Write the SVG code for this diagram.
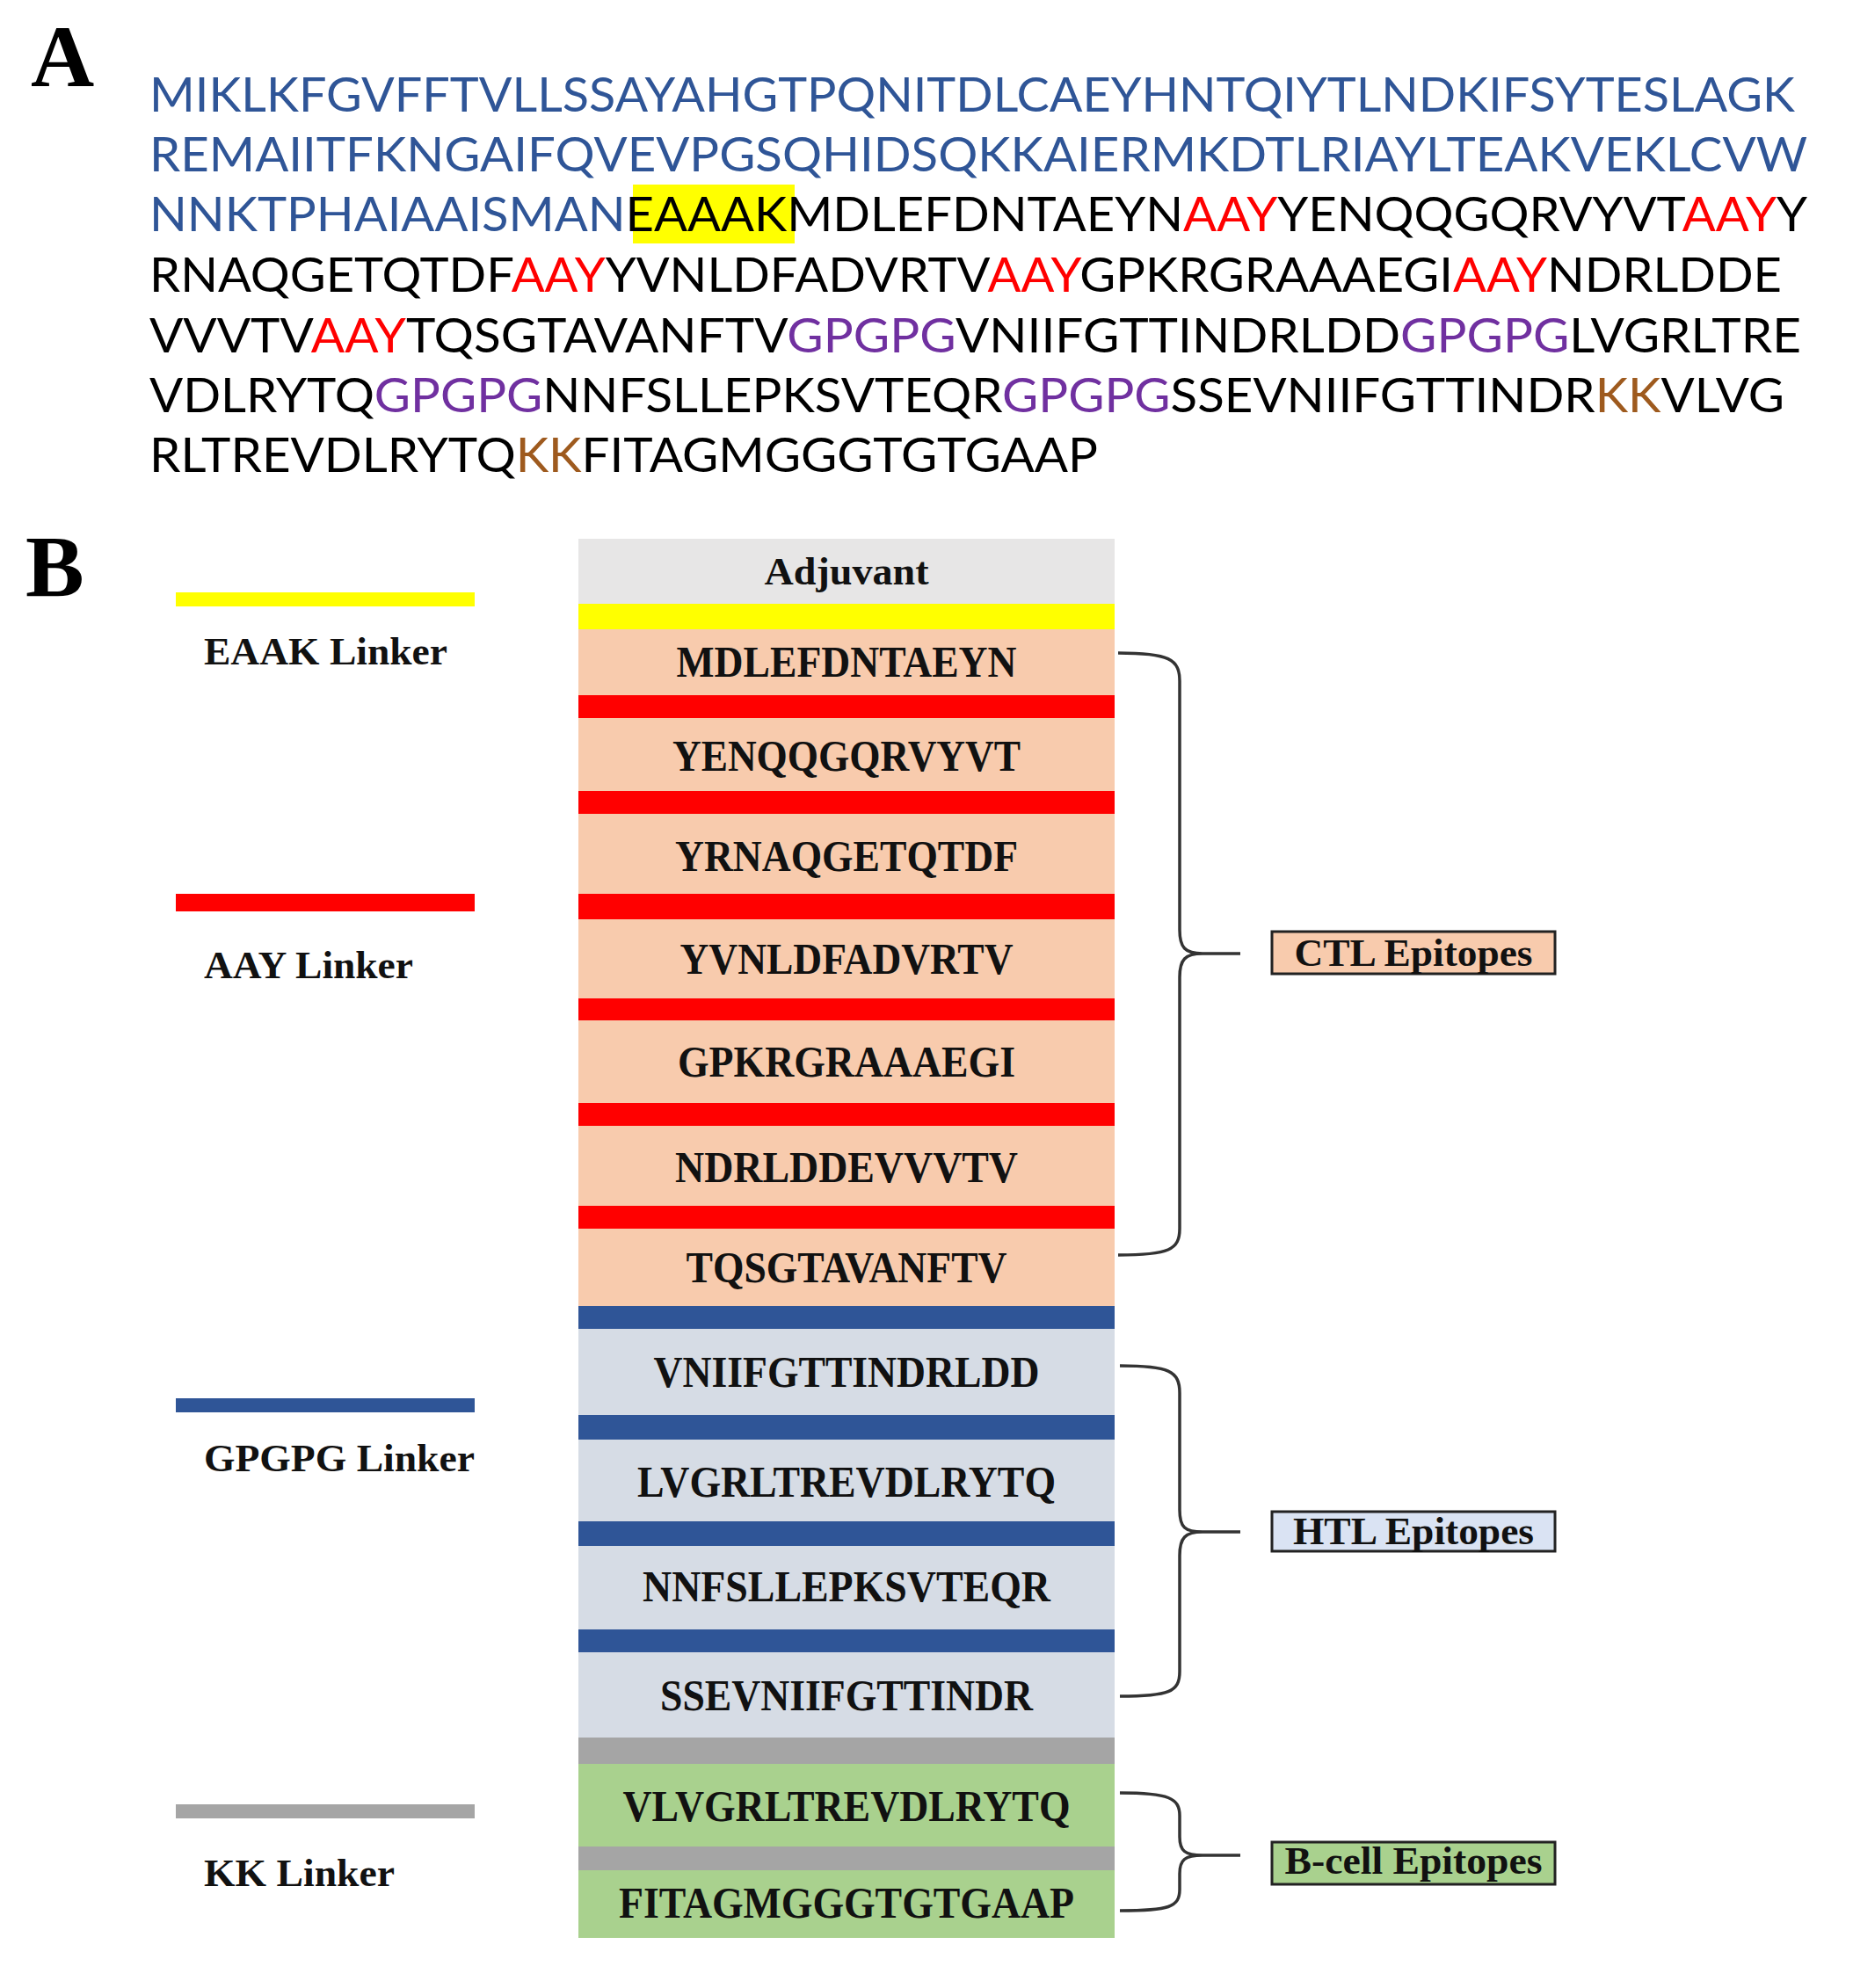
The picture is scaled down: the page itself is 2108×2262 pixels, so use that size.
<svg xmlns="http://www.w3.org/2000/svg" width="2108" height="2262" viewBox="0 0 2108 2262">
<style>
.panel{font-family:"Liberation Serif",serif;font-weight:bold;font-size:100px;fill:#000}
.seq{font-family:Lato,"Open Sans",sans-serif;font-size:54px;fill:#000}
.bl{fill:#2F5597}.rd{fill:#FF0000}.pu{fill:#7030A0}.br{fill:#9E5A1E}
.lab{font-family:"Liberation Serif",serif;font-weight:bold;font-size:50px;fill:#111;text-anchor:middle}
.leg{font-family:"Liberation Serif",serif;font-weight:bold;font-size:44px;fill:#111}
.box{font-family:"Liberation Serif",serif;font-weight:bold;font-size:44px;fill:#111;text-anchor:middle}
.brace{fill:none;stroke:#333;stroke-width:3.5}
</style>
<rect width="2108" height="2262" fill="#fff"/>

<g id="panelA">
<text class="panel" x="35" y="98">A</text>
<rect x="720" y="210" width="184" height="67" fill="#FFFF00"/>
<text class="seq bl" x="170" y="127" textLength="1872" lengthAdjust="spacingAndGlyphs">MIKLKFGVFFTVLLSSAYAHGTPQNITDLCAEYHNTQIYTLNDKIFSYTESLAGK</text>
<text class="seq bl" x="170" y="195" textLength="1886" lengthAdjust="spacingAndGlyphs">REMAIITFKNGAIFQVEVPGSQHIDSQKKAIERMKDTLRIAYLTEAKVEKLCVW</text>
<text class="seq" x="170" y="263" textLength="1886" lengthAdjust="spacingAndGlyphs"><tspan class="bl">NNKTPHAIAAISMAN</tspan>EAAAKMDLEFDNTAEYN<tspan class="rd">AAY</tspan>YENQQGQRVYVT<tspan class="rd">AAY</tspan>Y</text>
<text class="seq" x="170" y="332" textLength="1857" lengthAdjust="spacingAndGlyphs">RNAQGETQTDF<tspan class="rd">AAY</tspan>YVNLDFADVRTV<tspan class="rd">AAY</tspan>GPKRGRAAAEGI<tspan class="rd">AAY</tspan>NDRLDDE</text>
<text class="seq" x="170" y="401" textLength="1879" lengthAdjust="spacingAndGlyphs">VVVTV<tspan class="rd">AAY</tspan>TQSGTAVANFTV<tspan class="pu">GPGPG</tspan>VNIIFGTTINDRLDD<tspan class="pu">GPGPG</tspan>LVGRLTRE</text>
<text class="seq" x="170" y="469" textLength="1860" lengthAdjust="spacingAndGlyphs">VDLRYTQ<tspan class="pu">GPGPG</tspan>NNFSLLEPKSVTEQR<tspan class="pu">GPGPG</tspan>SSEVNIIFGTTINDR<tspan class="br">KK</tspan>VLVG</text>
<text class="seq" x="170" y="537" textLength="1079" lengthAdjust="spacingAndGlyphs">RLTREVDLRYTQ<tspan class="br">KK</tspan>FITAGMGGGTGTGAAP</text>
</g>

<g id="panelB">
<text class="panel" x="29" y="678">B</text>
</g>

<g id="legend">
<g id="leg-eaak"><rect x="200" y="674" width="340" height="16" fill="#FFFF00"/><text class="leg" x="232" y="756" textLength="277" lengthAdjust="spacingAndGlyphs">EAAK Linker</text></g>
<g id="leg-aay"><rect x="200" y="1017" width="340" height="20" fill="#FF0000"/><text class="leg" x="232" y="1113" textLength="238" lengthAdjust="spacingAndGlyphs">AAY Linker</text></g>
<g id="leg-gpgpg"><rect x="200" y="1591" width="340" height="16" fill="#2F5597"/><text class="leg" x="232" y="1674" textLength="308" lengthAdjust="spacingAndGlyphs">GPGPG Linker</text></g>
<g id="leg-kk"><rect x="200" y="2053" width="340" height="16" fill="#A5A5A5"/><text class="leg" x="232" y="2146" textLength="217" lengthAdjust="spacingAndGlyphs">KK Linker</text></g>
</g>

<g id="construct">
<g id="adjuvant"><rect x="658" y="613" width="610" height="74" fill="#E7E6E6"/><text class="box" x="963" y="665" textLength="187" lengthAdjust="spacingAndGlyphs">Adjuvant</text></g>
<rect id="eaak" x="658" y="687" width="610" height="29" fill="#FFFF00"/>
<g id="ctl1"><rect x="658" y="716" width="610" height="75" fill="#F8CBAD"/><text class="lab" x="963" y="770" textLength="387" lengthAdjust="spacingAndGlyphs">MDLEFDNTAEYN</text></g>
<rect x="658" y="791" width="610" height="26" fill="#FF0000"/>
<g id="ctl2"><rect x="658" y="817" width="610" height="83" fill="#F8CBAD"/><text class="lab" x="963" y="877" textLength="396" lengthAdjust="spacingAndGlyphs">YENQQGQRVYVT</text></g>
<rect x="658" y="900" width="610" height="26" fill="#FF0000"/>
<g id="ctl3"><rect x="658" y="926" width="610" height="91" fill="#F8CBAD"/><text class="lab" x="963" y="991" textLength="390" lengthAdjust="spacingAndGlyphs">YRNAQGETQTDF</text></g>
<rect x="658" y="1017" width="610" height="29" fill="#FF0000"/>
<g id="ctl4"><rect x="658" y="1046" width="610" height="90" fill="#F8CBAD"/><text class="lab" x="963" y="1108" textLength="379" lengthAdjust="spacingAndGlyphs">YVNLDFADVRTV</text></g>
<rect x="658" y="1136" width="610" height="25" fill="#FF0000"/>
<g id="ctl5"><rect x="658" y="1161" width="610" height="94" fill="#F8CBAD"/><text class="lab" x="963" y="1225" textLength="384" lengthAdjust="spacingAndGlyphs">GPKRGRAAAEGI</text></g>
<rect x="658" y="1255" width="610" height="26" fill="#FF0000"/>
<g id="ctl6"><rect x="658" y="1281" width="610" height="91" fill="#F8CBAD"/><text class="lab" x="963" y="1345" textLength="390" lengthAdjust="spacingAndGlyphs">NDRLDDEVVVTV</text></g>
<rect x="658" y="1372" width="610" height="26" fill="#FF0000"/>
<g id="ctl7"><rect x="658" y="1398" width="610" height="88" fill="#F8CBAD"/><text class="lab" x="963" y="1459" textLength="365" lengthAdjust="spacingAndGlyphs">TQSGTAVANFTV</text></g>
<rect x="658" y="1486" width="610" height="26" fill="#2F5597"/>
<g id="htl1"><rect x="658" y="1512" width="610" height="98" fill="#D6DCE5"/><text class="lab" x="963" y="1578" textLength="439" lengthAdjust="spacingAndGlyphs">VNIIFGTTINDRLDD</text></g>
<rect x="658" y="1610" width="610" height="28" fill="#2F5597"/>
<g id="htl2"><rect x="658" y="1638" width="610" height="93" fill="#D6DCE5"/><text class="lab" x="963" y="1703" textLength="476" lengthAdjust="spacingAndGlyphs">LVGRLTREVDLRYTQ</text></g>
<rect x="658" y="1731" width="610" height="28" fill="#2F5597"/>
<g id="htl3"><rect x="658" y="1759" width="610" height="95" fill="#D6DCE5"/><text class="lab" x="963" y="1822" textLength="464" lengthAdjust="spacingAndGlyphs">NNFSLLEPKSVTEQR</text></g>
<rect x="658" y="1854" width="610" height="26" fill="#2F5597"/>
<g id="htl4"><rect x="658" y="1880" width="610" height="97" fill="#D6DCE5"/><text class="lab" x="963" y="1946" textLength="424" lengthAdjust="spacingAndGlyphs">SSEVNIIFGTTINDR</text></g>
<rect x="658" y="1977" width="610" height="30" fill="#A5A5A5"/>
<g id="bcell1"><rect x="658" y="2007" width="610" height="94" fill="#A9D18E"/><text class="lab" x="963" y="2072" textLength="509" lengthAdjust="spacingAndGlyphs">VLVGRLTREVDLRYTQ</text></g>
<rect x="658" y="2101" width="610" height="27" fill="#A5A5A5"/>
<g id="bcell2"><rect x="658" y="2128" width="610" height="77" fill="#A9D18E"/><text class="lab" x="963" y="2182" textLength="518" lengthAdjust="spacingAndGlyphs">FITAGMGGGTGTGAAP</text></g>
</g>

<g id="connectors">
<path class="brace" d="M1272,743 C1330,743 1342,750 1342,775 L1342,1058 C1342,1078 1348,1085 1368,1085 L1411,1085 M1368,1085 C1348,1085 1342,1092 1342,1112 L1342,1398 C1342,1422 1330,1428 1272,1428"/>
<path class="brace" d="M1274,1554 C1330,1554 1342,1560 1342,1585 L1342,1718 C1342,1738 1348,1743 1368,1743 L1411,1743 M1368,1743 C1348,1743 1342,1750 1342,1770 L1342,1902 C1342,1925 1330,1930 1274,1930"/>
<path class="brace" d="M1274,2040 C1330,2040 1342,2046 1342,2066 L1342,2090 C1342,2106 1348,2111 1368,2111 L1411,2111 M1368,2111 C1348,2111 1342,2116 1342,2132 L1342,2150 C1342,2170 1330,2174 1274,2174"/>
</g>

<g id="ctl-label"><rect x="1447" y="1060" width="322" height="48" fill="#F8CBAD" stroke="#222" stroke-width="3"/><text class="box" x="1608" y="1099" textLength="271" lengthAdjust="spacingAndGlyphs">CTL Epitopes</text></g>
<g id="htl-label"><rect x="1447" y="1720" width="322" height="45" fill="#DAE3F3" stroke="#222" stroke-width="3"/><text class="box" x="1608" y="1757" textLength="274" lengthAdjust="spacingAndGlyphs">HTL Epitopes</text></g>
<g id="bcell-label"><rect x="1447" y="2096" width="322" height="48" fill="#A9D18E" stroke="#222" stroke-width="3"/><text class="box" x="1608" y="2132" textLength="293" lengthAdjust="spacingAndGlyphs">B-cell Epitopes</text></g>
</svg>
